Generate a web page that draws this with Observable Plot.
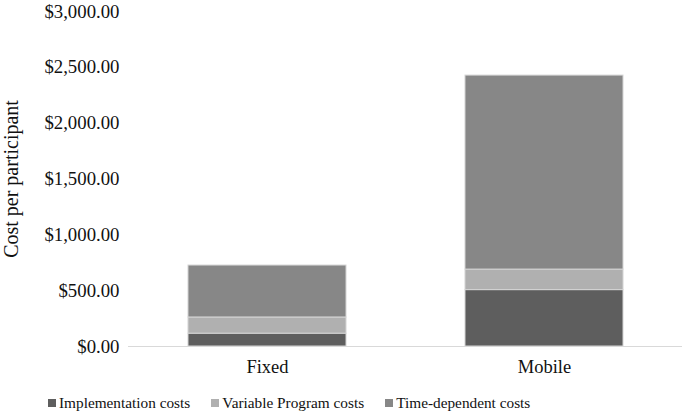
<!DOCTYPE html>
<html><head><meta charset="utf-8">
<script src="https://cdn.jsdelivr.net/npm/d3@7"></script>
<script src="https://cdn.jsdelivr.net/npm/@observablehq/plot@0.6"></script>
<style>
body{margin:0;background:#fff;font-family:"Liberation Serif","Times New Roman",serif}
#wrap{position:relative;width:685px;height:416px;overflow:hidden}
#legend{position:absolute;left:48px;top:393px;display:flex;gap:21px;font-size:15.3px;color:#111;line-height:19px;white-space:nowrap;font-family:"Liberation Serif",serif}
#legend .it{display:flex;align-items:center;gap:3px}
#legend .sw{width:8px;height:8px;display:inline-block}
svg text{font-family:"Liberation Serif","Times New Roman",serif !important;fill:#111;font-variant:normal !important}
svg g[aria-label="y-axis tick label"] text{font-size:18.8px}
svg g[aria-label="x-axis tick label"] text{font-size:18.5px}
svg g[aria-label="y-axis label"] text{font-size:20px}
</style></head>
<body><div id="wrap"><div id="chart"></div><div id="legend"></div></div>
<script>
const categories = ["Fixed", "Mobile"];
const seriesNames = ["Implementation costs", "Variable Program costs", "Time-dependent costs"];
const implementationCosts = [115, 505];
const variableProgramCosts = [145, 184];
const timeDependentCosts = [465, 1737];
const yTicks = [0, 500, 1000, 1500, 2000, 2500, 3000];
const colors = ["#5e5e5e", "#b0b0b0", "#878787"];

const valuesBySeries = [implementationCosts, variableProgramCosts, timeDependentCosts];
const data = [];
seriesNames.forEach((s, si) => categories.forEach((c, ci) => data.push({category: c, series: s, value: valuesBySeries[si][ci]})));

const fmt = d3.format("$,.2f");
const plot = Plot.plot({
  width: 685, height: 384,
  marginLeft: 128, marginRight: 3, marginTop: 11, marginBottom: 38,
  style: {fontFamily: '"Liberation Serif","Times New Roman",serif', fontSize: "17px", color: "#111", background: "#fff"},
  x: {domain: categories, paddingInner: 0.43, paddingOuter: 0.215},
  y: {domain: [0, 3000]},
  color: {domain: seriesNames, range: colors},
  marks: [
    Plot.barY(data, Plot.stackY({x: "category", y: "value", fill: "series", order: seriesNames, stroke: "#d4d4d4", strokeWidth: 1})),
    Plot.ruleY([0], {stroke: "#d9d9d9", strokeWidth: 1.2}),
    Plot.axisY({ticks: yTicks, tickFormat: fmt, tickSize: 0, tickPadding: 9, label: "Cost per participant", labelAnchor: "center", labelArrow: "none", labelOffset: 125}),
    Plot.axisX({tickSize: 0, tickPadding: 13, label: null})
  ]
});
document.getElementById("chart").appendChild(plot);

const legend = document.getElementById("legend");
seriesNames.forEach((s, i) => {
  const it = document.createElement("span"); it.className = "it";
  const sw = document.createElement("span"); sw.className = "sw"; sw.style.background = colors[i];
  const t = document.createElement("span"); t.textContent = s;
  it.appendChild(sw); it.appendChild(t); legend.appendChild(it);
});
</script></body></html>
